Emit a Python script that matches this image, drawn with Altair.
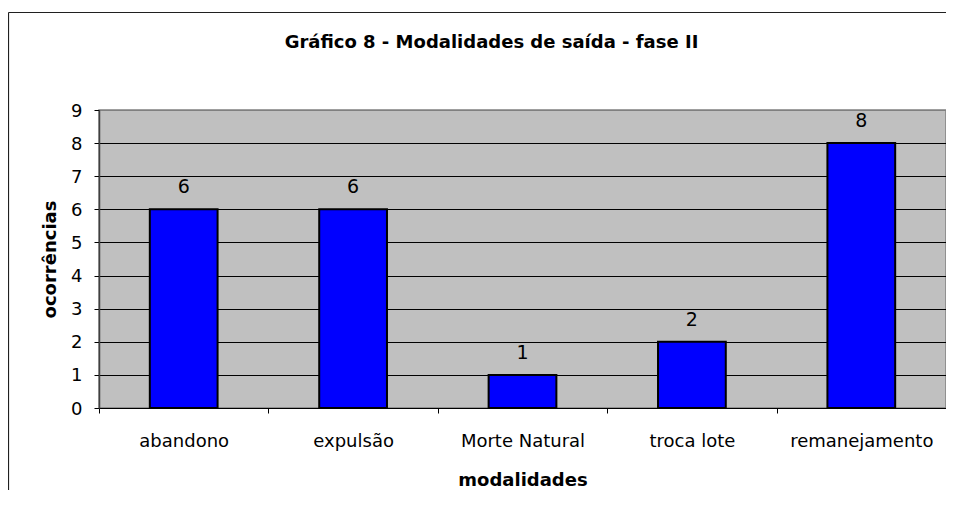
import altair as alt
import pandas as pd

# ---- data ----
categories = ["abandono", "expulsão", "Morte Natural", "troca lote", "remanejamento"]
values = [6, 6, 1, 2, 8]
y_ticks = [0, 1, 2, 3, 4, 5, 6, 7, 8, 9]

title_text = "Gráfico 8 - Modalidades de saída - fase II"
x_title = "modalidades"
y_title = "ocorrências"

df = pd.DataFrame({"modalidade": categories, "ocorrencias": values})
one_row = pd.DataFrame({"k": [0]})

FONT = "DejaVu Sans"
W, H = 847, 298

x_enc = alt.X(
    "modalidade:N",
    sort=categories,
    scale=alt.Scale(paddingInner=0, paddingOuter=0),
    axis=alt.Axis(
        title=x_title,
        labelAngle=0,
        tickBand="extent",
        grid=False,
        tickSize=5,
        tickColor="black",
        domainColor="black",
        labelPadding=33,
        labelBaseline="alphabetic",
        labelFont=FONT,
        labelFontSize=18,
        labelColor="black",
        titleFont=FONT,
        titleFontSize=18,
        titleFontWeight="bold",
        titleColor="black",
        titleY=77,
        titleBaseline="alphabetic",
    ),
)

y_enc = alt.Y(
    "ocorrencias:Q",
    scale=alt.Scale(domain=[0, 9], nice=False),
    axis=alt.Axis(
        title=y_title,
        values=y_ticks,
        tickSize=5,
        tickColor="black",
        domainColor="#404040",
        domainWidth=1.5,
        grid=True,
        gridColor={"condition": {"test": "datum.value >= 9", "value": "#808080"}, "value": "black"},
        gridWidth=1,
        labelPadding=12,
        labelBaseline="middle",
        labelOffset=1,
        labelOverlap=False,
        labelFont=FONT,
        labelFontSize=18,
        labelColor="black",
        titleFont=FONT,
        titleFontSize=18,
        titleFontWeight="bold",
        titleColor="black",
        titleAngle=270,
        titleX=-44,
        titleY=149,
        titleAlign="center",
        titleBaseline="alphabetic",
    ),
)

frame_left = alt.Chart(one_row).mark_rule(color="#202020", strokeWidth=1.2).encode(
    x=alt.value(-90.5), y=alt.value(-97.5), y2=alt.value(560)
)
frame_top = alt.Chart(one_row).mark_rule(color="#202020", strokeWidth=1.2).encode(
    x=alt.value(-90.5), x2=alt.value(960), y=alt.value(-97.5)
)

base = alt.Chart(df).encode(x=x_enc, y=y_enc)

bars = base.mark_bar(
    color="#0000FF", stroke="black", strokeWidth=2, width=alt.RelativeBandSize(0.4)
)

labels = base.mark_text(
    baseline="alphabetic", dy=-16, font=FONT, fontSize=19, color="black"
).encode(text="ocorrencias:Q")

title = alt.Chart(one_row).mark_text(
    text=title_text, font=FONT, fontSize=18, fontWeight="bold",
    align="center", baseline="alphabetic", color="black"
).encode(x=alt.value(392.5), y=alt.value(-62))

chart = (
    alt.layer(frame_left, frame_top, bars, labels, title)
    .properties(
        width=W,
        height=H,
        background="white",
        autosize=alt.AutoSizeParams(type="none"),
        padding={"left": 91, "top": 102, "right": 0, "bottom": 82},
    )
    .configure_view(fill="#C0C0C0", stroke="#808080", strokeWidth=1.5)
)

chart.save("out.html", embed_options={"renderer": "svg", "actions": False})
